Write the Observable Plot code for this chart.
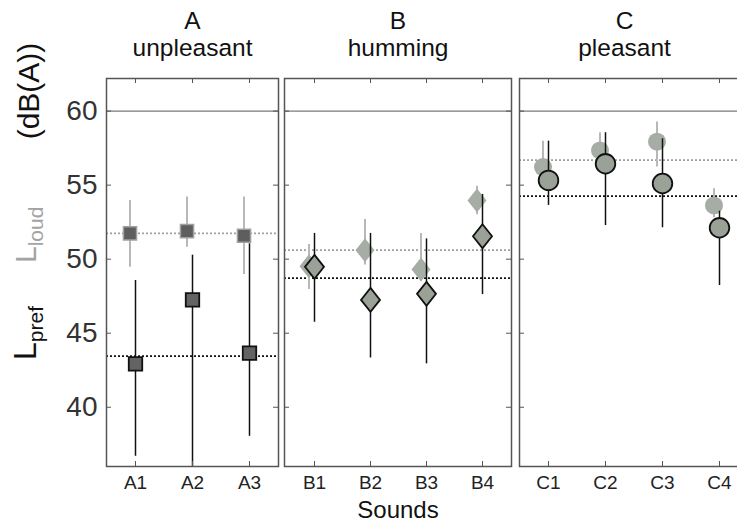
<!DOCTYPE html>
<html><head><meta charset="utf-8">
<script src="https://cdn.jsdelivr.net/npm/d3@7"></script>
<script src="https://cdn.jsdelivr.net/npm/@observablehq/plot@0.6"></script>
<style>
html,body{margin:0;padding:0;background:#fff;overflow:hidden}
#chart{position:relative;width:737px;height:524px;overflow:hidden;font-family:"Liberation Sans",Arial,sans-serif}
#chart svg{position:absolute;top:0}
</style></head><body><div id="chart"></div>
<script>
// ---- data ----
const yTicks = [40, 45, 50, 55, 60];
const yDomain = [36.0, 62.2];
const refLevel = 60;

const soundsA = ["A1", "A2", "A3"];
const loudA   = [51.74, 51.89, 51.58];
const loudLoA = [49.46, 50.80, 48.96];
const loudHiA = [53.97, 54.20, 54.20];
const prefA   = [42.93, 47.25, 43.65];
const prefLoA = [36.69, 36.0, 38.04];
const prefHiA = [48.56, 50.27, 51.04];
const meanLoudA = 51.74, meanPrefA = 43.45;

const soundsB = ["B1", "B2", "B3", "B4"];
const loudB   = [49.53, 50.61, 49.30, 53.97];
const loudLoB = [47.95, 49.60, 48.50, 53.00];
const loudHiB = [50.99, 52.68, 51.74, 54.93];
const prefB   = [49.48, 47.25, 47.66, 51.55];
const prefLoB = [45.74, 43.33, 42.93, 47.61];
const prefHiB = [51.74, 51.74, 51.37, 54.37];
const meanLoudB = 50.61, meanPrefB = 48.72;

const soundsC = ["C1", "C2", "C3", "C4"];
const loudC   = [56.22, 57.34, 57.93, 53.63];
const loudLoC = [55.20, 56.50, 56.22, 52.80];
const loudHiC = [57.97, 58.54, 59.26, 54.75];
const prefC   = [55.32, 56.44, 55.11, 52.12];
const prefLoC = [53.63, 52.27, 52.12, 48.22];
const prefHiC = [57.97, 58.54, 58.13, 53.24];
const meanLoudC = 56.69, meanPrefC = 54.26;

const groupLetters = ["A", "B", "C"];
const groupNames = ["unpleasant", "humming", "pleasant"];
const xTitle = "Sounds";

// ---- layout ----
const H = 524, MT = 78, MB = 58;
const FONT = "'Liberation Sans', Arial, sans-serif";

const tallDiamond = {
  draw(ctx, size) {
    const r = Math.sqrt(size / Math.PI);
    const w = r * 0.95, h = r * 1.2;
    ctx.moveTo(0, -h); ctx.lineTo(w, 0); ctx.lineTo(0, h); ctx.lineTo(-w, 0); ctx.closePath();
  }
};

function panel(cfg) {
  const rows = cfg.sounds.map((s, i) => ({
    sound: s, loud: cfg.loud[i], loudLo: cfg.loudLo[i], loudHi: cfg.loudHi[i],
    pref: cfg.pref[i], prefLo: cfg.prefLo[i], prefHi: cfg.prefHi[i]
  }));
  const plotW = cfg.width - cfg.ml - cfg.mr;
  const plotH = H - MT - MB;
  const marks = [
    Plot.ruleY([refLevel], {stroke: "#7a7a7a", strokeWidth: 1.2}),
    Plot.ruleY([cfg.meanLoud], {stroke: "#a0a0a0", strokeWidth: 1.6, strokeDasharray: "2,2"}),
    Plot.ruleY([cfg.meanPref], {stroke: "#111", strokeWidth: 1.8, strokeDasharray: "2,2"}),
    Plot.ruleX(rows, {x: "sound", y1: "loudLo", y2: "loudHi", dx: -5.5, stroke: "#b8b8b8", strokeWidth: 2}),
    Plot.dot(rows, {x: "sound", y: "loud", dx: -5.5, symbol: cfg.symbol, r: cfg.rLoud,
      fill: cfg.loudFill, stroke: cfg.loudStroke, strokeWidth: 1.5}),
    Plot.ruleX(rows, {x: "sound", y1: "prefLo", y2: "prefHi", stroke: "#111", strokeWidth: 1.5}),
    Plot.dot(rows, {x: "sound", y: "pref", symbol: cfg.symbol, r: cfg.rPref,
      fill: cfg.prefFill, stroke: "#111", strokeWidth: 1.8}),
    Plot.tickY(yTicks, {y: d => d, insetRight: plotW - 5, stroke: "#555", strokeWidth: 1}),
    Plot.tickY(yTicks, {y: d => d, insetLeft: plotW - 5, stroke: "#555", strokeWidth: 1}),
    Plot.tickX(cfg.sounds, {x: d => d, insetTop: plotH - 5, stroke: "#555", strokeWidth: 1}),
    Plot.tickX(cfg.sounds, {x: d => d, insetBottom: plotH - 5, stroke: "#555", strokeWidth: 1}),
    Plot.frame({stroke: "#555", strokeWidth: 1.5}),
    Plot.axisX({anchor: "bottom", tickSize: 0, tickPadding: 9, fontSize: 19, fill: "#222", label: null}),
    Plot.text([cfg.letter], {frameAnchor: "top", lineAnchor: "middle", dy: -57, dx: cfg.titleDx, fontSize: 24.5, fill: "#111"}),
    Plot.text([cfg.name], {frameAnchor: "top", lineAnchor: "middle", dy: -30, dx: cfg.titleDx, fontSize: 24.5, fill: "#111"})
  ];
  if (cfg.yAxis) {
    marks.push(Plot.axisY({anchor: "left", ticks: yTicks, tickSize: 0, tickPadding: 9,
      fontSize: 28, fill: "#333", label: null}));
  }
  if (cfg.xLabel) {
    marks.push(Plot.text([cfg.xLabel], {frameAnchor: "bottom", lineAnchor: "middle", dy: 44, fontSize: 24, fill: "#111"}));
  }
  const svg = Plot.plot({
    width: cfg.width, height: H,
    marginTop: MT, marginBottom: MB, marginLeft: cfg.ml, marginRight: cfg.mr,
    x: {type: "point", domain: cfg.sounds, padding: 0.5, axis: null},
    y: {domain: yDomain, axis: null},
    style: {fontFamily: FONT, fontSize: "20px", background: "transparent", overflow: "visible"},
    marks
  });
  svg.style.left = cfg.left + "px";
  return svg;
}

const chart = document.getElementById("chart");
const svgA = panel({left: 0, width: 280, ml: 106, mr: 2, sounds: soundsA,
  loud: loudA, loudLo: loudLoA, loudHi: loudHiA, pref: prefA, prefLo: prefLoA, prefHi: prefHiA,
  meanLoud: meanLoudA, meanPref: meanPrefA, symbol: "square", rLoud: 7.4, rPref: 7.6,
  loudFill: "#5e5e5e", loudStroke: "#a0a0a0", prefFill: "#636363",
  letter: groupLetters[0], name: groupNames[0], titleDx: 0, yAxis: true});
const svgB = panel({left: 280, width: 235, ml: 4, mr: 4, sounds: soundsB,
  loud: loudB, loudLo: loudLoB, loudHi: loudHiB, pref: prefB, prefLo: prefLoB, prefHi: prefHiB,
  meanLoud: meanLoudB, meanPref: meanPrefB, symbol: tallDiamond, rLoud: 10, rPref: 10,
  loudFill: "#a6ada4", loudStroke: "none", prefFill: "#9aa298",
  letter: groupLetters[1], name: groupNames[1], titleDx: 0, xLabel: xTitle});
const svgC = panel({left: 515, width: 240, ml: 4, mr: 8, sounds: soundsC,
  loud: loudC, loudLo: loudLoC, loudHi: loudHiC, pref: prefC, prefLo: prefLoC, prefHi: prefHiC,
  meanLoud: meanLoudC, meanPref: meanPrefC, symbol: "circle", rLoud: 9, rPref: 9.8,
  loudFill: "#a6ada4", loudStroke: "none", prefFill: "#9aa298",
  letter: groupLetters[2], name: groupNames[2], titleDx: -9});
chart.append(svgA, svgB, svgC);

// rotated y-axis label: L_pref  L_loud  (dB(A))
const g = d3.select(svgA).append("g").attr("font-family", FONT);
function rotLabel(x, y, parts, color, anchor) {
  const t = g.append("text").attr("transform", `translate(${x},${y}) rotate(-90)`)
    .attr("text-anchor", anchor || "start").attr("fill", color);
  parts.forEach(p => {
    const ts = t.append("tspan").style("font-size", p.size + "px").text(p.text);
    if (p.dy) ts.attr("dy", p.dy);
  });
}
rotLabel(36, 360, [{text: "L", size: 32}, {text: "pref", size: 21, dy: 7}], "#111");
rotLabel(36, 263, [{text: "L", size: 30}, {text: "loud", size: 21, dy: 7}], "#a3a3a3");
rotLabel(39, 91, [{text: "(dB(A))", size: 30}], "#111", "middle");
</script></body></html>
